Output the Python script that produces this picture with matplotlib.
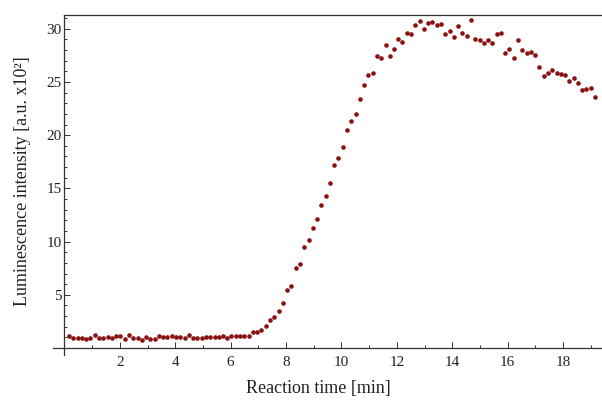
import matplotlib.pyplot as plt
from matplotlib.ticker import MultipleLocator

# reaction time [min]
time_min = [0.17, 0.32, 0.48, 0.63, 0.79, 0.94, 1.10, 1.25, 1.40, 1.56,
            1.71, 1.87, 2.02, 2.18, 2.33, 2.48, 2.64, 2.79, 2.95, 3.10,
            3.26, 3.41, 3.56, 3.72, 3.87, 4.03, 4.18, 4.34, 4.49, 4.64,
            4.80, 4.95, 5.11, 5.26, 5.42, 5.57, 5.72, 5.88, 6.03, 6.19,
            6.34, 6.50, 6.65, 6.80, 6.96, 7.11, 7.27, 7.42, 7.58, 7.73,
            7.88, 8.04, 8.19, 8.35, 8.50, 8.66, 8.81, 8.96, 9.12, 9.27,
            9.43, 9.58, 9.74, 9.89, 10.04, 10.20, 10.35, 10.51, 10.66, 10.82,
            10.97, 11.12, 11.28, 11.43, 11.59, 11.74, 11.90, 12.05, 12.20, 12.36,
            12.51, 12.67, 12.82, 12.98, 13.13, 13.28, 13.44, 13.59, 13.75, 13.90,
            14.06, 14.21, 14.36, 14.52, 14.67, 14.83, 14.98, 15.14, 15.29, 15.44,
            15.60, 15.75, 15.91, 16.06, 16.22, 16.37, 16.52, 16.68, 16.83, 16.99,
            17.14, 17.30, 17.45, 17.60, 17.76, 17.91, 18.07, 18.22, 18.38, 18.53,
            18.68, 18.84, 18.99, 19.15]

# luminescence intensity [a.u. x10^2]
intensity = [1.16, 0.98, 0.95, 0.95, 0.88, 0.95, 1.22, 0.98, 0.98, 1.02,
             0.98, 1.13, 1.13, 0.85, 1.25, 0.98, 0.95, 0.78, 1.05, 0.88,
             0.88, 1.13, 1.05, 1.05, 1.13, 1.05, 1.05, 0.98, 1.25, 0.95,
             0.95, 0.98, 1.05, 1.02, 1.05, 1.05, 1.13, 0.95, 1.13, 1.13,
             1.13, 1.13, 1.10,
             1.51, 1.51, 1.73, 2.10, 2.64, 2.92, 3.52, 4.24, 5.41, 5.85,
             7.48, 7.86, 9.46, 10.15, 11.28, 12.08, 13.40, 14.30, 15.50, 17.23,
             17.83, 18.92, 20.45, 21.35, 21.98, 23.45, 24.68, 25.62, 25.82, 27.42,
             27.29, 28.52, 27.42, 28.09, 29.00, 28.72, 29.63, 29.53, 30.33, 30.72,
             30.03, 30.55, 30.62, 30.34, 30.43, 29.53, 29.84, 29.21, 30.30, 29.62,
             29.30, 30.85, 29.06, 28.93, 28.64, 28.96, 28.71, 29.56, 29.62, 27.74,
             28.11, 27.29, 28.93, 28.02, 27.74, 27.79, 27.51, 26.38, 25.59, 25.81,
             26.13, 25.85, 25.72, 25.69, 25.12, 25.41, 24.91, 24.21, 24.34, 24.40,
             23.58]

xticks = [2, 4, 6, 8, 10, 12, 14, 16, 18]
yticks = [5, 10, 15, 20, 25, 30]


def main():
    plt.rcParams['font.family'] = ['Liberation Serif', 'DejaVu Serif']
    fig = plt.figure(figsize=(6.02, 4.01), dpi=100)
    # axes box in pixels: left 53, right 602, top 15, bottom 355
    ax = fig.add_axes([53 / 602, (401 - 355) / 401, 549 / 602, 340 / 401])

    ax.plot(time_min, intensity, 'o', color='#8b1010', markersize=3.3,
            markeredgewidth=0, clip_on=False)

    ax.set_xlim(-0.41, 19.40)
    ax.set_ylim(-0.66, 31.3)

    # mathematica-like crossing axes
    ax.spines['left'].set_position(('data', 0))
    ax.spines['bottom'].set_position(('data', 0))
    ax.spines['right'].set_visible(False)
    ax.spines['top'].set_bounds(0, 19.40)
    for s in ['left', 'bottom', 'top']:
        ax.spines[s].set_color('#333333')
        ax.spines[s].set_linewidth(0.9)

    ax.set_xticks(xticks)
    ax.set_yticks(yticks)
    ax.xaxis.set_minor_locator(MultipleLocator(1))
    ax.yaxis.set_minor_locator(MultipleLocator(1))
    ax.tick_params(which='both', direction='in', color='#333333', width=0.7)
    ax.tick_params(which='major', length=4)
    ax.tick_params(which='minor', length=2.2)
    ax.tick_params(axis='x', labelsize=11, pad=6, labelcolor='#222222')
    ax.tick_params(axis='y', labelsize=11, pad=2, labelcolor='#222222')

    ax.set_xlabel('Reaction time [min]', fontsize=13, color='#222222')
    ax.xaxis.set_label_coords(0.484, -0.074)
    ax.set_ylabel('Luminescence intensity [a.u. x10²]', fontsize=13,
                  color='#222222')
    ax.yaxis.set_label_coords(-0.04, 0.51)

    plt.savefig('out.png', dpi=100)
    plt.close()


if __name__ == '__main__': main()
